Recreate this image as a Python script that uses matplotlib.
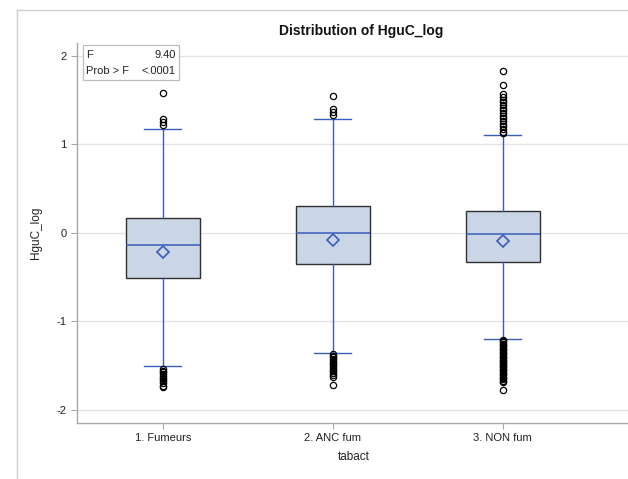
import matplotlib
matplotlib.use("Agg")
import matplotlib.pyplot as plt
from matplotlib.lines import Line2D
from matplotlib.patches import Rectangle

plt.rcParams['font.family'] = ['Liberation Sans', 'DejaVu Sans']

categories = ["1. Fumeurs", "2. ANC fum", "3. NON fum"]
q1 = [-0.518, -0.360, -0.337]
medians = [-0.137, -0.006, -0.013]
q3 = [0.160, 0.303, 0.246]
means = [-0.220, -0.088, -0.096]
whislo = [-1.510, -1.358, -1.203]
whishi = [1.170, 1.280, 1.100]
fliers = [
    [1.576, 1.280, 1.250, 1.215,
     -1.54, -1.56, -1.58, -1.60, -1.62, -1.64, -1.66, -1.68, -1.70, -1.73, -1.75],
    [1.546, 1.400, 1.365, 1.330,
     -1.37, -1.39, -1.41, -1.43, -1.45, -1.47, -1.49, -1.51, -1.53, -1.55,
     -1.57, -1.59, -1.61, -1.63, -1.72],
    [1.820, 1.670, 1.560, 1.530, 1.500, 1.470, 1.440, 1.410, 1.380, 1.350,
     1.320, 1.290, 1.260, 1.230, 1.200, 1.170, 1.140, 1.128,
     -1.21, -1.225, -1.24, -1.255, -1.27, -1.285, -1.30, -1.315, -1.33, -1.345,
     -1.36, -1.375, -1.39, -1.405, -1.42, -1.435, -1.45, -1.465, -1.48, -1.495,
     -1.51, -1.525, -1.54, -1.555, -1.57, -1.585, -1.60, -1.615, -1.63, -1.645,
     -1.66, -1.675, -1.69, -1.78],
]
yticks = [-2, -1, 0, 1, 2]
f_stat = "9.40"
p_val = "<.0001"

W, H = 628, 479
fig = plt.figure(figsize=(W / 100, H / 100), dpi=100)

def fx(px):
    return px / W

def fy(py):
    return 1 - py / H

ax = fig.add_axes([fx(76.7), fy(422.7), fx(628 - 76.7 + 2), (422.7 - 43.3) / H])

stats = []
for i in range(len(categories)):
    stats.append(dict(label=categories[i], q1=q1[i], med=medians[i], q3=q3[i],
                      mean=means[i], whislo=whislo[i], whishi=whishi[i],
                      fliers=fliers[i]))

blue = '#3A5CBA'
ax.bxp(stats, positions=range(len(categories)), widths=0.435, patch_artist=True,
       showmeans=True, showfliers=True,
       boxprops=dict(facecolor='#CAD5E5', edgecolor='#303030', linewidth=1.0),
       medianprops=dict(color=blue, linewidth=1.1),
       whiskerprops=dict(color=blue, linewidth=1.0),
       capprops=dict(color=blue, linewidth=1.0),
       capwidths=0.218,
       meanprops=dict(marker='D', markerfacecolor='none', markeredgecolor=blue,
                      markersize=6.2, markeredgewidth=1.2),
       flierprops=dict(marker='o', markerfacecolor='none', markeredgecolor='black',
                       markersize=4.5, markeredgewidth=0.9))

ax.set_xlim(-0.506, (628 + 2 - 162.7) / 170.0)
ax.set_ylim(-2.149, 2.138)
ax.set_yticks(yticks)
ax.set_yticklabels([str(v) for v in yticks])
ax.yaxis.grid(True, color='#E4E4E4', linewidth=1.0)
ax.set_axisbelow(True)
for s in ['top', 'right']:
    ax.spines[s].set_visible(False)
for s in ['left', 'bottom']:
    ax.spines[s].set_color('#A8A8A8')
    ax.spines[s].set_linewidth(1.0)
ax.tick_params(axis='both', colors='#A8A8A8', labelcolor='#222222', labelsize=8,
               length=4, width=0.8)
ax.set_xlabel("tabact", fontsize=8.5, color='#222222', labelpad=6)
ax.set_ylabel("HguC_log", fontsize=8.5, color='#222222', labelpad=10)

# inset stats box
ax.add_patch(Rectangle((fx(83), fy(80)), fx(179 - 83), (80 - 45) / H,
                       transform=fig.transFigure, facecolor='white',
                       edgecolor='#BDBDBD', linewidth=0.9, zorder=5))
fig.text(fx(86), fy(55), "F", fontsize=8, va='center', ha='left', color='#222222', zorder=6)
fig.text(fx(176), fy(55), f_stat, fontsize=8, va='center', ha='right', color='#222222', zorder=6)
fig.text(fx(86), fy(71.5), "Prob > F", fontsize=8, va='center', ha='left', color='#222222', zorder=6)
fig.text(fx(176), fy(71.5), p_val, fontsize=8, va='center', ha='right', color='#222222', zorder=6)

fig.text(fx(361), fy(31), "Distribution of HguC_log", fontsize=10, fontweight='bold',
         ha='center', va='center', color='#111111')

# outer frame
fig.add_artist(Line2D([fx(17.3), fx(17.3)], [fy(10), 0], transform=fig.transFigure,
                      color='#CFCFCF', linewidth=1.0))
fig.add_artist(Line2D([fx(17.3), 1], [fy(10), fy(10)], transform=fig.transFigure,
                      color='#CFCFCF', linewidth=1.0))

fig.savefig("out.png", dpi=100)
